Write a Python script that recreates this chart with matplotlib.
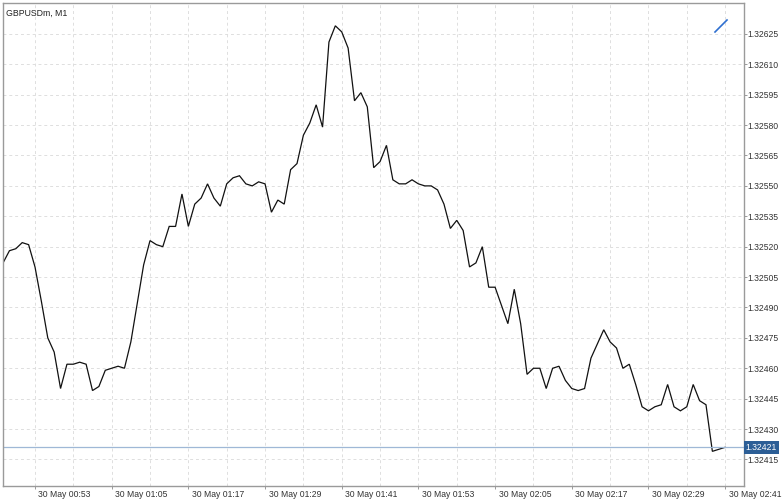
import numpy as np
import pandas as pd
import matplotlib
matplotlib.use("Agg")
import matplotlib.pyplot as plt
import matplotlib.dates as mdates
import matplotlib.transforms as mtransforms
from matplotlib.lines import Line2D

title = "GBPUSDm, M1"
start_time = "2024-05-30 00:48"
close = [
    1.32512, 1.32518, 1.32519, 1.32522, 1.32521, 1.32510, 1.32493, 1.32475, 1.32468, 1.32450,
    1.32462, 1.32462, 1.32463, 1.32462, 1.32449, 1.32451, 1.32459, 1.32460, 1.32461, 1.32460,
    1.32473, 1.32492, 1.32511, 1.32523, 1.32521, 1.32520, 1.32530, 1.32530, 1.32546, 1.32530,
    1.32541, 1.32544, 1.32551, 1.32544, 1.32540, 1.32551, 1.32554, 1.32555, 1.32551, 1.32550,
    1.32552, 1.32551, 1.32537, 1.32543, 1.32541, 1.32558, 1.32561, 1.32575, 1.32581, 1.32590,
    1.32579, 1.32621, 1.32629, 1.32626, 1.32618, 1.32592, 1.32596, 1.32589, 1.32559, 1.32562,
    1.32570, 1.32553, 1.32551, 1.32551, 1.32553, 1.32551, 1.32550, 1.32550, 1.32548, 1.32541,
    1.32529, 1.32533, 1.32528, 1.32510, 1.32512, 1.32520, 1.32500, 1.32500, 1.32491, 1.32482,
    1.32499, 1.32482, 1.32457, 1.32460, 1.32460, 1.32450, 1.32460, 1.32461, 1.32454, 1.32450,
    1.32449, 1.32450, 1.32465, 1.32472, 1.32479, 1.32473, 1.32470, 1.32460, 1.32462, 1.32452,
    1.32441, 1.32439, 1.32441, 1.32442, 1.32452, 1.32441, 1.32439, 1.32441, 1.32452, 1.32444,
    1.32442, 1.32419, 1.32420, 1.32421,
]
current_price = 1.32421
y_ticks = [1.32415, 1.32430, 1.32445, 1.32460, 1.32475, 1.32490, 1.32505, 1.32520,
           1.32535, 1.32550, 1.32565, 1.32580, 1.32595, 1.32610, 1.32625]
x_tick_labels = ["30 May 00:53", "30 May 01:05", "30 May 01:17", "30 May 01:29", "30 May 01:41",
                 "30 May 01:53", "30 May 02:05", "30 May 02:17", "30 May 02:29", "30 May 02:41"]

times = pd.date_range(start_time, periods=len(close), freq="min")
tick_times = pd.to_datetime(["2024 " + s for s in x_tick_labels], format="%Y %d %b %H:%M")
grid_times = pd.date_range("2024-05-30 00:53", "2024-05-30 02:41", freq="6min")

plt.rcParams['font.family'] = ['Liberation Sans', 'DejaVu Sans']
fig = plt.figure(figsize=(7.82, 4.99), dpi=100)
ax = fig.add_axes([3.3 / 782, 1 - 486 / 499, (744 - 3.3) / 782, (486 - 3.3) / 499])
ax.set_facecolor("white")

ax.plot(times, close, color="#111111", lw=0.9, solid_joinstyle="miter")
ax.axhline(current_price, color="#9fb8d6", lw=0.9)

t0 = mdates.date2num(times[0])
ax.set_xlim(t0 + 0.04 / 1440, t0 + 115.95 / 1440)
ax.set_ylim(1.324019, 1.326401)

# grid
for gt in grid_times:
    ax.axvline(gt, color="#dedede", lw=0.7, ls=(0, (3, 3)), zorder=0)
for yt in y_ticks:
    ax.axhline(yt, color="#dedede", lw=0.7, ls=(0, (3, 3)), zorder=0)

ax.yaxis.tick_right()
ax.set_yticks(y_ticks)
ax.set_yticklabels([f"{v:.5f}" for v in y_ticks])
ax.set_xticks(mdates.date2num(tick_times))
ax.set_xticklabels(x_tick_labels)
ax.tick_params(axis="both", labelsize=6.2, colors="#333333", length=2.2, width=0.7, pad=0.6)
ax.tick_params(axis="both", color="#999999")
offset = mtransforms.ScaledTranslation(3.5 / 100, 0, fig.dpi_scale_trans)
for lbl in ax.get_xticklabels():
    lbl.set_ha("left")
    lbl.set_transform(lbl.get_transform() + offset)

for s in ax.spines.values():
    s.set_color("#9a9a9a")
    s.set_linewidth(1.0)

ax.text(0.003, 0.988, title, transform=ax.transAxes, fontsize=6.3, color="#222222",
        ha="left", va="top")

ax.annotate(f"{current_price:.5f}", xy=(1, current_price), xycoords=("axes fraction", "data"),
            xytext=(1.2, 0), textcoords="offset points", fontsize=6.2, color="white",
            ha="left", va="center",
            bbox=dict(boxstyle="square,pad=0.2", fc="#2c5e96", ec="none"), annotation_clip=False)

# small blue autoscroll marker in top-right
fig.add_artist(Line2D([715 / 782, 727 / 782], [1 - 32 / 499, 1 - 20 / 499],
                      color="#2f6fd0", lw=1.2, transform=fig.transFigure))

fig.savefig("out.png", dpi=100, facecolor="white")
